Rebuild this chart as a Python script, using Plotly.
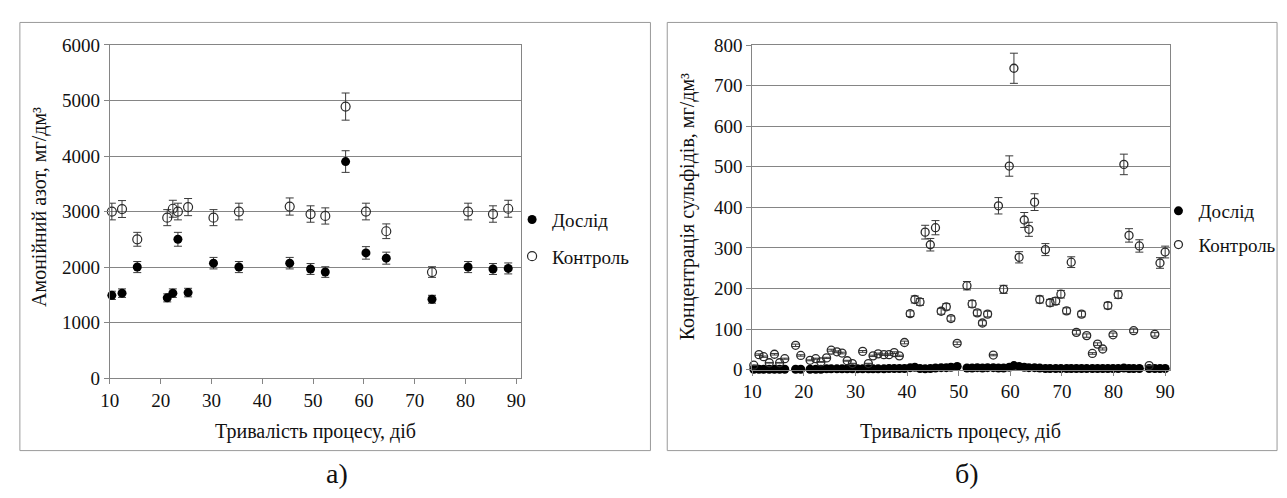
import plotly.graph_objects as go

W, H = 1287, 498

# ---------------- Panel a) : ammonium nitrogen ----------------
days_a = [10.4, 12.4, 15.4, 21.3, 22.4, 23.4, 25.4, 30.4, 35.4, 45.4,
          49.5, 52.4, 56.4, 60.4, 64.4, 73.4, 80.5, 85.4, 88.4]
nitrogen_exp = [1490, 1530, 2000, 1445, 1530, 2500, 1540, 2070, 2000, 2070,
                1965, 1910, 3900, 2255, 2160, 1420, 2000, 1965, 1975]
nitrogen_ctrl = [3000, 3045, 2500, 2890, 3050, 3000, 3080, 2890, 3000, 3090,
                 2955, 2920, 4890, 3000, 2645, 1910, 3000, 2955, 3050]

# ---------------- Panel б) : sulfides ----------------
days_b_ctrl = [10.3, 11.3, 12.2, 13.3, 14.3, 15.3, 16.3, 18.4, 19.4, 21.2,
               22.3, 23.3, 24.4, 25.3, 26.4, 27.4, 28.4, 29.4, 31.4, 32.5,
               33.4, 34.4, 35.5, 36.5, 37.5, 38.5, 39.5, 40.6, 41.5, 42.5,
               43.5, 44.5, 45.5, 46.6, 47.6, 48.5, 49.7, 51.6, 52.6, 53.6,
               54.6, 55.6, 56.7, 57.7, 58.7, 59.8, 60.7, 61.7, 62.7, 63.6,
               64.7, 65.7, 66.8, 67.7, 68.8, 69.8, 70.9, 71.8, 72.8, 73.8,
               74.8, 75.9, 76.9, 77.9, 78.9, 79.9, 80.9, 82.0, 83.0, 83.9,
               85.0, 86.9, 88.0, 89.0, 90.0]
sulfide_ctrl = [11, 37, 32, 17, 38, 17, 27, 60, 35, 23,
                27, 19, 29, 48, 44, 41, 22, 15, 45, 15,
                34, 39, 37, 37, 42, 34, 67, 138, 173, 167,
                339, 308, 350, 144, 155, 126, 65, 207, 162, 140,
                115, 137, 36, 404, 198, 502, 743, 277, 369, 346,
                413, 173, 296, 165, 169, 186, 145, 265, 92, 137,
                84, 40, 63, 51, 158, 86, 185, 506, 331, 96,
                305, 10, 87, 263, 290]

days_b_exp = [10.3, 11.3, 12.2, 13.3, 14.3, 15.3, 16.3, 18.4, 19.4, 21.2,
              22.3, 23.3, 24.4, 25.3, 26.4, 27.4, 28.4, 29.4, 30.4, 31.4,
              32.5, 33.4, 34.4, 35.5, 36.5, 37.5, 38.5, 39.5, 40.6, 41.5,
              42.5, 43.5, 44.5, 45.5, 46.6, 47.6, 48.5, 49.7, 51.6, 52.6,
              53.6, 54.6, 55.6, 56.7, 57.7, 58.7, 59.8, 60.7, 61.7, 62.7,
              63.6, 64.7, 65.7, 66.8, 67.7, 68.8, 69.8, 70.9, 71.8, 72.8,
              73.8, 74.8, 75.9, 76.9, 77.9, 78.9, 79.9, 80.9, 82.0, 83.0,
              83.9, 85.0, 86.9, 88.0, 89.0, 90.0]
sulfide_exp = [1, 1, 1, 1, 1, 1, 1, 1, 1, 1,
               1, 1, 2, 2, 2, 2, 2, 2, 2, 2,
               2, 2, 2, 2, 3, 3, 3, 3, 5, 6,
               3, 2, 3, 4, 5, 5, 6, 8, 4, 4,
               5, 4, 5, 5, 4, 4, 6, 10, 8, 6,
               5, 5, 4, 3, 3, 3, 3, 3, 3, 3,
               3, 3, 3, 3, 3, 3, 3, 3, 4, 3,
               3, 3, 3, 3, 3, 3]

FONT = "'Liberation Serif', 'Times New Roman', 'DejaVu Serif', serif"
GRID = "#858585"
TXT = "#111111"


def px_x(v):
    return v / W


def px_y(v):
    return 1 - v / H


fig = go.Figure()

err = dict(type="percent", value=5, color="#3a3a3a", thickness=1, width=4)

fig.add_trace(go.Scatter(
    x=days_a, y=nitrogen_exp, mode="markers", name="Дослід",
    marker=dict(symbol="circle", size=9, color="black"),
    error_y=err, xaxis="x", yaxis="y", legend="legend", legendgroup="a1",
    cliponaxis=False))
fig.add_trace(go.Scatter(
    x=days_a, y=nitrogen_ctrl, mode="markers", name="Контроль",
    marker=dict(symbol="circle-open", size=9, color="#2a2a2a",
                line=dict(width=1.2, color="#2a2a2a")),
    error_y=err, xaxis="x", yaxis="y", legend="legend", legendgroup="a2",
    cliponaxis=False))

fig.add_trace(go.Scatter(
    x=days_b_exp, y=sulfide_exp, mode="markers", name="Дослід",
    marker=dict(symbol="circle", size=9, color="black"),
    error_y=err, xaxis="x2", yaxis="y2", legend="legend2", legendgroup="b1",
    cliponaxis=False))
fig.add_trace(go.Scatter(
    x=days_b_ctrl, y=sulfide_ctrl, mode="markers", name="Контроль",
    marker=dict(symbol="circle-open", size=8, color="#2a2a2a",
                line=dict(width=1.3, color="#2a2a2a")),
    error_y=err, xaxis="x2", yaxis="y2", legend="legend2", legendgroup="b2",
    cliponaxis=False))

axis_common = dict(
    showline=True, linecolor=GRID, linewidth=1, mirror=True,
    ticks="outside", ticklen=5, tickcolor=GRID, tickwidth=1,
    tickfont=dict(family=FONT, size=19, color=TXT),
    zeroline=False,
)

xa = dict(axis_common, showgrid=False, tickmode="array",
          tickvals=[10, 20, 30, 40, 50, 60, 70, 80, 90])
ya = dict(axis_common, showgrid=True, gridcolor=GRID, gridwidth=1)

fig.update_layout(
    width=W, height=H,
    margin=dict(l=0, r=0, t=0, b=0),
    paper_bgcolor="white", plot_bgcolor="white",
    font=dict(family=FONT, size=19, color=TXT),
    xaxis=dict(xa, domain=[px_x(101), px_x(516.7)], range=[10, 90.85],
               anchor="y"),
    yaxis=dict(ya, domain=[px_y(384.3), px_y(36.5)], range=[0, 6000],
               dtick=1000, anchor="x"),
    xaxis2=dict(xa, domain=[px_x(751), px_x(1174)], range=[10, 91],
                anchor="y2"),
    yaxis2=dict(ya, domain=[px_y(375.5), px_y(36.7)], range=[0, 800],
                dtick=100, anchor="x2"),
    legend=dict(x=px_x(508), y=px_y(199), xanchor="left", yanchor="top",
                bgcolor="rgba(0,0,0,0)", tracegroupgap=9,
                font=dict(family=FONT, size=19, color=TXT)),
    legend2=dict(x=px_x(1162), y=px_y(190), xanchor="left", yanchor="top",
                 bgcolor="rgba(0,0,0,0)", tracegroupgap=6,
                 font=dict(family=FONT, size=19, color=TXT)),
    showlegend=True,
)

# outer chart frames
for x0, x1 in [(10, 648), (665, 1282)]:
    fig.add_shape(type="rect", xref="paper", yref="paper",
                  x0=px_x(x0), x1=px_x(x1), y0=px_y(460), y1=px_y(13),
                  line=dict(color="#9a9a9a", width=1), fillcolor="rgba(0,0,0,0)",
                  layer="below")

ann = dict(xref="paper", yref="paper", showarrow=False,
           xanchor="center", yanchor="middle",
           font=dict(family=FONT, size=20, color=TXT))
fig.add_annotation(ann, x=px_x(309), y=px_y(440), text="Тривалість процесу, діб")
fig.add_annotation(ann, x=px_x(962), y=px_y(440), text="Тривалість процесу, діб")
fig.add_annotation(ann, x=px_x(30), y=px_y(206), textangle=-90,
                   text="Амонійний азот, мг/дм³")
fig.add_annotation(ann, x=px_x(685), y=px_y(206), textangle=-90,
                   text="Концентрація сульфідів, мг/дм³")
fig.add_annotation(ann, x=px_x(331), y=px_y(484), text="а)",
                   font=dict(family=FONT, size=28, color=TXT))
fig.add_annotation(ann, x=px_x(968), y=px_y(484), text="б)",
                   font=dict(family=FONT, size=28, color=TXT))

fig.write_html("out.html")
